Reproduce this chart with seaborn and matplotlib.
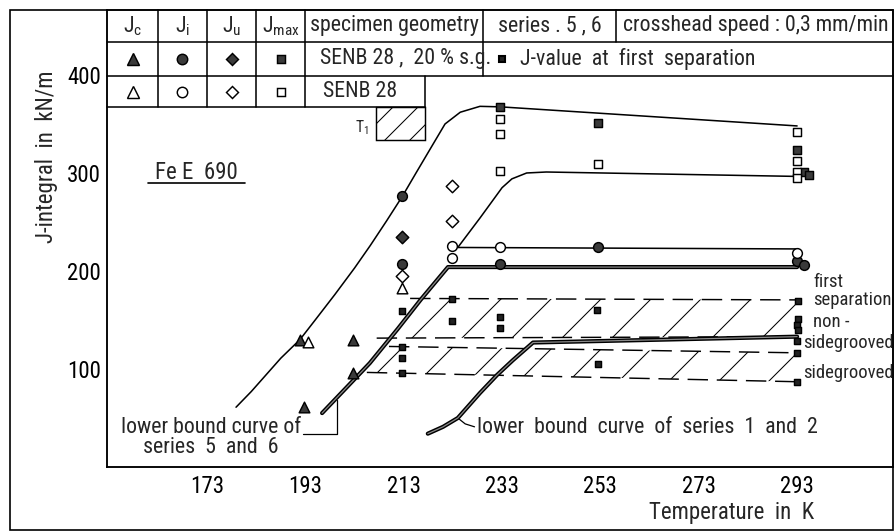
import numpy as np
import pandas as pd
import matplotlib
matplotlib.use("Agg")
import matplotlib.pyplot as plt
from matplotlib import font_manager
from matplotlib.patches import Rectangle
import seaborn as sns

# ---------------- data (temperature in K, J in kN/m) ----------------
# J_c
jc_sg_T = [191.9, 192.7, 202.7, 202.7]
jc_sg_J = [130, 61, 130, 96]
jc_ns_T = [193.5, 212.7]
jc_ns_J = [128, 183]
# J_i
ji_sg_T = [212.7, 212.7, 232.6, 252.5, 293.0, 294.5]
ji_sg_J = [277, 207, 207, 224, 210, 206]
ji_ns_T = [222.8, 222.8, 232.6, 293.0]
ji_ns_J = [225, 213, 224, 218]
# J_u
ju_sg_T = [212.7]
ju_sg_J = [235]
ju_ns_T = [212.7, 222.8, 222.8]
ju_ns_J = [195, 287, 251]
# J_max
jmax_sg_T = [232.6, 252.5, 293.0, 294.3, 295.5]
jmax_sg_J = [367, 351, 323, 301, 298]
jmax_ns_T = [232.6, 232.6, 232.6, 252.5, 293.0, 293.0, 293.0, 293.0]
jmax_ns_J = [355, 340, 302, 309, 342, 312, 301, 295]
# J-value at first separation
sep_T = [222.8, 212.7, 222.8, 232.6, 232.6, 212.7, 212.7, 212.7,
         252.3, 252.5, 293.2, 293.2, 293.0, 293.2, 293.0, 293.0, 293.0]
sep_J = [171, 159, 149, 153, 142, 122, 111, 96,
         160, 105, 169, 151, 145, 140, 129, 116, 87]

# fitted curves
jmax_curve_T = [178.9, 182, 185, 188, 191.9, 195, 199, 203, 206.2, 209.5,
                212.7, 215.5, 218.8, 221.4, 224.5, 228.5, 232.6, 293.0]
jmax_curve_J = [61, 77, 94, 111, 130, 150, 176, 203, 226, 251,
                276, 300, 328, 350, 362, 368, 367.5, 348]
jmax_ns_curve_T = [224.0, 228.5, 233.0, 235.0, 238.0, 242.0, 293.0]
jmax_ns_curve_J = [224, 254, 285, 294, 300, 301, 296.5]
ji_ns_line_T = [224.0, 293.0]
ji_ns_line_J = [224, 222.5]
lb56_T = [196.4, 206.1, 211.8, 216.5, 222.0, 293.0]
lb56_J = [55, 106, 141, 171, 204, 204]
lb12_T = [217.9, 221.0, 224.0, 228.5, 232.0, 235.2, 239.3, 293.0]
lb12_J = [34, 41, 50, 75.5, 94, 109, 127, 133]

# scatter bands of first separation
band_ns_top_T = [214.3, 293.0]
band_ns_top_J = [172, 170.5]
band_ns_bot_T = [207.5, 293.0]
band_ns_bot_J = [131.5, 133]
band_sg_top_T = [210.0, 293.0]
band_sg_top_J = [123, 116.5]
band_sg_bot_T = [205.5, 293.0]
band_sg_bot_J = [96.5, 87]

# transition temperature T1 range
t1_T = [207.3, 217.3]
t1_J = [334, 367]

x_ticks = [163, 173, 183, 193, 203, 213, 223, 233, 243, 253, 263, 273, 283, 293, 303]
x_tick_labels = ["", "173", "", "193", "", "213", "", "233", "", "253", "", "273", "", "293", ""]
y_ticks = [100, 200, 300, 400]
y_tick_labels = ["100", "200", "300", "400"]

# ---------------- style ----------------
sns.set_theme(style="white")
avail = {f.name for f in font_manager.fontManager.ttflist}
face = next((f for f in ["Roboto Condensed", "Liberation Sans Narrow", "Roboto",
                         "Liberation Sans"] if f in avail), "DejaVu Sans")
plt.rcParams["font.family"] = [face, "DejaVu Sans"]
plt.rcParams["mathtext.fontset"] = "custom"
plt.rcParams["mathtext.rm"] = face
plt.rcParams["mathtext.it"] = face
plt.rcParams["mathtext.default"] = "regular"
plt.rcParams["hatch.linewidth"] = 0.5
FS = 11      # axis text
FA = 10.5    # annotations in the plot area
FT = 10.5    # header table
FR = 9       # labels at the right edge

DPI = 150
fig = plt.figure(figsize=(895 / DPI, 532 / DPI), dpi=DPI)
fig.patch.set_facecolor("white")
ax = fig.add_axes([107 / 895, 1 - 467 / 532, 786 / 895, 457 / 532])
ax.set_facecolor("white")
ax.set_xlim(152.66, 312.5)
ax.set_ylim(0, 466.3)

# outer frame
fig.add_artist(Rectangle((10 / 895, 1 - 530 / 532), 883 / 895, 520 / 532,
                         transform=fig.transFigure, fill=False, lw=0.8, ec="black"))

for s in ["top", "right"]:
    ax.spines[s].set_visible(False)
for s in ["left", "bottom"]:
    ax.spines[s].set_color("black")
    ax.spines[s].set_linewidth(0.9)

ax.set_xticks(x_ticks)
ax.set_xticklabels(x_tick_labels, fontsize=FS)
ax.set_yticks(y_ticks)
ax.set_yticklabels(y_tick_labels, fontsize=FS)
ax.tick_params(axis="both", direction="in", length=2.5, width=0.8, color="black",
               labelcolor="black")
ax.tick_params(axis="x", pad=4)
ax.tick_params(axis="y", pad=3)
ax.set_xlabel("Temperature  in  K", fontsize=FS)
ax.set_ylabel("J-integral  in  kN/m", fontsize=FS)
ax.xaxis.set_label_coords(0.795, -0.074)
ax.yaxis.set_label_coords(-0.062, 0.678)

# ---------------- bands ----------------
for tT, tJ, bT, bJ in [(band_ns_top_T, band_ns_top_J, band_ns_bot_T, band_ns_bot_J),
                       (band_sg_top_T, band_sg_top_J, band_sg_bot_T, band_sg_bot_J)]:
    ax.fill(tT + bT[::-1], tJ + bJ[::-1], facecolor="none", edgecolor="black",
            linewidth=0, hatch="/", zorder=1)
    ax.plot(tT, tJ, color="black", lw=0.7, ls=(0, (14, 6)), zorder=2)
    ax.plot(bT, bJ, color="black", lw=0.7, ls=(0, (14, 6)), zorder=2)

# T1 box
ax.add_patch(Rectangle((t1_T[0], t1_J[0]), t1_T[1] - t1_T[0], t1_J[1] - t1_J[0],
                       facecolor="none", edgecolor="black", lw=0.7, hatch="//", zorder=2))
ax.text(t1_T[0] - 2.8, 346, r"$T_1$", fontsize=7.5, ha="center", va="center")

# ---------------- curves ----------------
thin = dict(color="black", lw=0.75, sort=False, estimator=None, zorder=3)
sns.lineplot(x=jmax_curve_T, y=jmax_curve_J, ax=ax, **thin)
sns.lineplot(x=jmax_ns_curve_T, y=jmax_ns_curve_J, ax=ax, **thin)
sns.lineplot(x=ji_ns_line_T, y=ji_ns_line_J, ax=ax, **thin)
for T, J in [(lb56_T, lb56_J), (lb12_T, lb12_J)]:
    sns.lineplot(x=T, y=J, ax=ax, color="black", lw=2.0, sort=False,
                 estimator=None, zorder=3)
    sns.lineplot(x=T, y=J, ax=ax, color="#8a8a8a", lw=0.6, sort=False,
                 estimator=None, zorder=3)

# ---------------- markers ----------------
FILL = "#3a3a3a"
mk = [
    (jc_sg_T, jc_sg_J, "^", 26, FILL), (jc_ns_T, jc_ns_J, "^", 26, "white"),
    (ji_sg_T, ji_sg_J, "o", 22, FILL), (ji_ns_T, ji_ns_J, "o", 22, "white"),
    (ju_sg_T, ju_sg_J, "D", 18, FILL), (ju_ns_T, ju_ns_J, "D", 18, "white"),
    (jmax_sg_T, jmax_sg_J, "s", 18, FILL), (jmax_ns_T, jmax_ns_J, "s", 18, "white"),
    (sep_T, sep_J, "s", 7, "#222222"),
]
for T, J, m, s, c in mk:
    sns.scatterplot(x=T, y=J, ax=ax, marker=m, s=s, color=c, edgecolor="black",
                    linewidth=0.7, zorder=5)

# ---------------- annotations ----------------
ax.text(170.8, 300, "Fe E  690", fontsize=FS, ha="center", va="center")
ax.plot([161, 180.7], [290, 290], color="black", lw=0.8)

ax.text(173.8, 30, "lower bound curve of\nseries  5  and  6", fontsize=FA,
        ha="center", va="center", multialignment="center", linespacing=0.95)
ax.plot([192.6, 199.4, 199.4], [33.7, 33.7, 68], color="black", lw=0.6)

ax.text(227.9, 40.8, "lower  bound  curve  of  series  1  and  2", fontsize=FA,
        ha="left", va="center")
ax.plot([224.0, 225.5, 227.4], [50, 44, 41], color="black", lw=0.6)

for txt, tx, ty in [("first", 296.3, 188.8), ("separation", 296.3, 170.4),
                    ("non -", 296.3, 148), ("sidegrooved", 294.2, 126.5),
                    ("sidegrooved", 294.2, 96)]:
    ax.text(tx, ty, txt, fontsize=FR, ha="left", va="center", clip_on=False)

# ---------------- header table ----------------
tr = ax.transAxes
col = [0.0, 0.0649, 0.1272, 0.1896, 0.2519, 0.4046, 0.4784, 0.6476, 1.0]
row = [1.0, 0.930, 0.8556, 0.7877]
lk = dict(color="black", lw=0.75, transform=tr, clip_on=False)
ax.plot([0, 1], [row[0], row[0]], **lk)
ax.plot([0, 1], [row[1], row[1]], **lk)
ax.plot([0, 1], [row[2], row[2]], **lk)
ax.plot([0, col[5]], [row[3], row[3]], **lk)
for c in col[1:5]:
    ax.plot([c, c], [row[3], row[0]], **lk)
ax.plot([col[5], col[5]], [row[3], row[2]], **lk)
ax.plot([col[6], col[6]], [row[2], row[0]], **lk)
ax.plot([col[7], col[7]], [row[1], row[0]], **lk)
ax.plot([1, 1], [0, 1], **lk)

ry = [(row[0] + row[1]) / 2, (row[1] + row[2]) / 2, (row[2] + row[3]) / 2]
heads = [r"$J_c$", r"$J_i$", r"$J_u$", r"$J_{max}$"]
shapes = [("^", 5.5), ("o", 5), ("D", 4.3), ("s", 4.3)]
for i, h in enumerate(heads):
    cx = (col[i] + col[i + 1]) / 2
    ax.text(cx, ry[0], h, fontsize=FT, ha="center", va="center", transform=tr)
    m, ms = shapes[i]
    ax.plot([cx], [ry[1]], marker=m, ms=ms, mfc=FILL, mec="black", mew=0.7,
            transform=tr, clip_on=False, ls="none")
    ax.plot([cx], [ry[2]], marker=m, ms=ms, mfc="white", mec="black", mew=0.7,
            transform=tr, clip_on=False, ls="none")

ax.text((col[4] + col[6]) / 2, ry[0], "specimen geometry", fontsize=FT,
        ha="center", va="center", transform=tr)
ax.text((col[6] + col[7]) / 2, ry[0], "series . 5 , 6", fontsize=FT,
        ha="center", va="center", transform=tr)
ax.text(0.8257, ry[0], "crosshead speed : 0,3 mm/min", fontsize=FT,
        ha="center", va="center", transform=tr)
ax.text(0.271, ry[1], "SENB 28 ,  20 % s.g.", fontsize=FT, ha="left",
        va="center", transform=tr)
ax.plot([0.5025], [ry[1]], marker="s", ms=2.8, mfc="#222222", mec="black",
        transform=tr, ls="none")
ax.text(0.5254, ry[1], "J-value  at  first  separation", fontsize=FT,
        ha="left", va="center", transform=tr)
ax.text(0.2748, ry[2], "SENB 28", fontsize=FT, ha="left", va="center",
        transform=tr)

fig.savefig("out.png", dpi=DPI)
